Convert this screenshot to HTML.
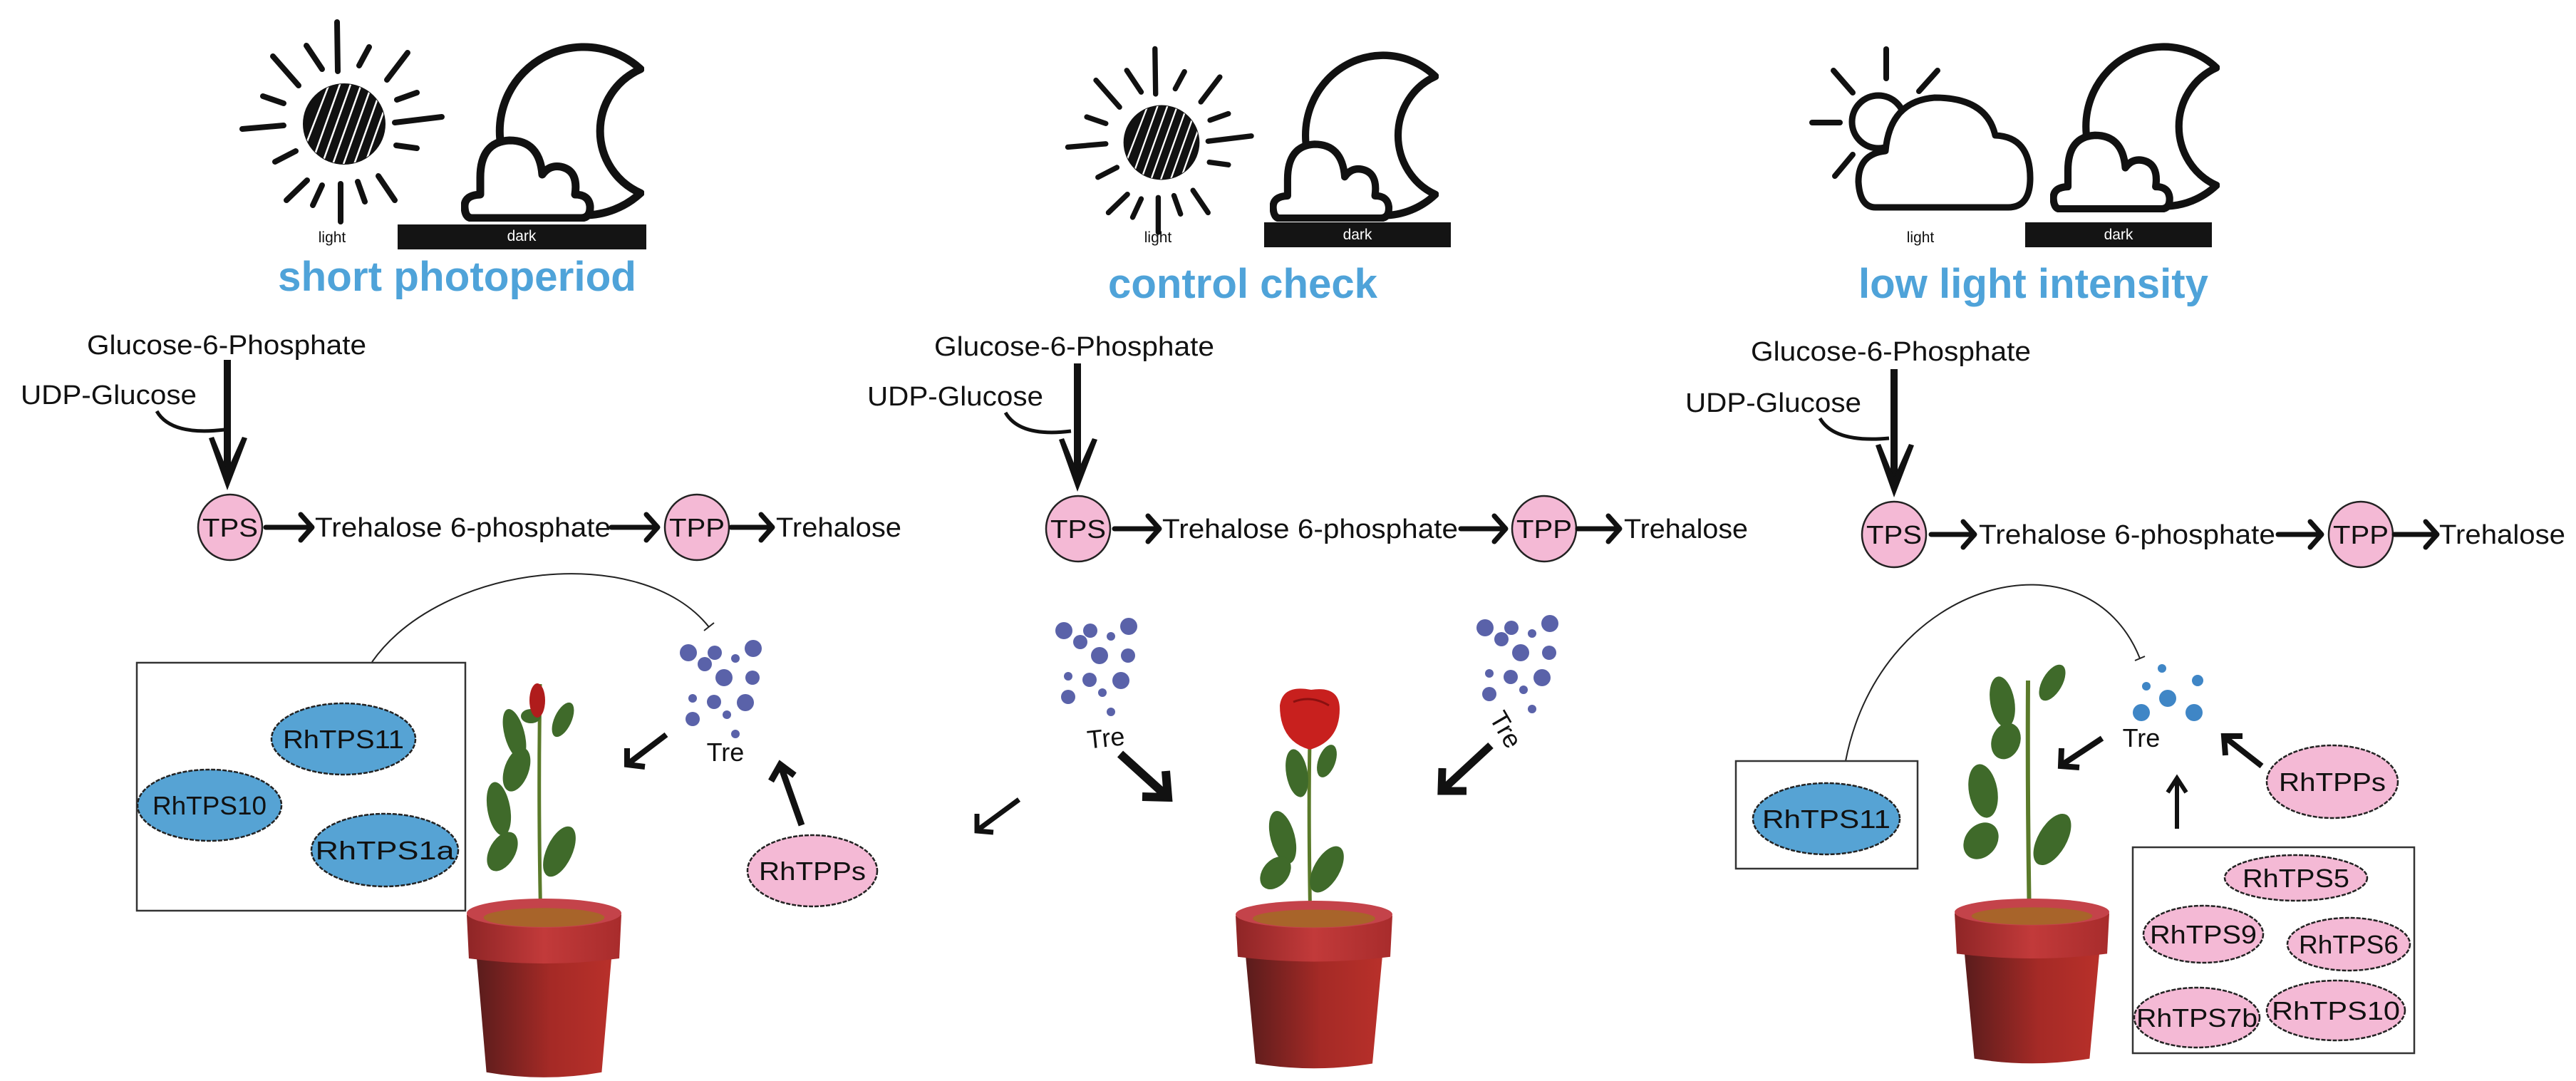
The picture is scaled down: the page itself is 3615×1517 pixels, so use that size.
<!DOCTYPE html>
<html><head><meta charset="utf-8"><style>
html,body{margin:0;padding:0;background:#fff;}
svg{display:block;}
text{font-family:"Liberation Sans",Arial,sans-serif;}
</style></head><body>
<svg width="3615" height="1517" viewBox="0 0 3615 1517" xmlns="http://www.w3.org/2000/svg">
<defs>
<symbol id="moon" viewBox="0 0 257 252" preserveAspectRatio="none">
 <path d="M252,38 A118,118 0 1 0 252,212 A95,95 0 0 1 252,38 Z" fill="#fff" stroke="#111" stroke-width="11" stroke-linejoin="round"/>
 <path d="M15,247 L168,247 Q182,247 181,230 Q179,214 160,214 Q165,180 140,175 Q124,172 114,186 Q110,138 68,138 Q27,140 27,190 L27,214 Q4,215 5,232 Q6,247 15,247 Z" fill="#fff" stroke="#111" stroke-width="11" stroke-linejoin="round"/>
</symbol>
<clipPath id="sunclip"><ellipse cx="483" cy="174" rx="57" ry="56"/></clipPath>
<g id="sun">
 <ellipse cx="483" cy="174" rx="58" ry="57" fill="#111"/>
 <g clip-path="url(#sunclip)" stroke="#fff" stroke-width="2.5">
  <line x1="430" y1="250" x2="480" y2="110"/><line x1="445" y1="250" x2="495" y2="110"/>
  <line x1="460" y1="250" x2="510" y2="110"/><line x1="475" y1="250" x2="525" y2="110"/>
  <line x1="490" y1="250" x2="540" y2="110"/><line x1="505" y1="250" x2="555" y2="110"/>
  <line x1="415" y1="240" x2="465" y2="110"/><line x1="520" y1="250" x2="570" y2="120"/>
 </g>
 <g stroke="#111" stroke-width="8" stroke-linecap="round">
  <line x1="473" y1="31" x2="474" y2="100"/>
  <line x1="430" y1="64" x2="452" y2="97"/><line x1="383" y1="79" x2="419" y2="120"/>
  <line x1="518" y1="66" x2="504" y2="92"/><line x1="572" y1="74" x2="543" y2="112"/>
  <line x1="369" y1="135" x2="398" y2="145"/><line x1="340" y1="181" x2="398" y2="176"/>
  <line x1="585" y1="130" x2="557" y2="140"/><line x1="620" y1="164" x2="554" y2="172"/>
  <line x1="585" y1="208" x2="556" y2="204"/>
  <line x1="415" y1="212" x2="386" y2="227"/><line x1="431" y1="253" x2="402" y2="281"/>
  <line x1="452" y1="260" x2="439" y2="288"/><line x1="478" y1="258" x2="478" y2="311"/>
  <line x1="502" y1="255" x2="512" y2="283"/><line x1="531" y1="247" x2="554" y2="281"/>
 </g>
</g>
<g id="dots" fill="#5a62a9">
 <circle cx="966" cy="916" r="12"/><circle cx="1003" cy="916" r="10"/><circle cx="989" cy="932" r="10"/>
 <circle cx="1032" cy="924" r="6"/><circle cx="1057" cy="910" r="12"/><circle cx="1016" cy="951" r="12"/>
 <circle cx="1056" cy="951" r="10"/><circle cx="972" cy="980" r="6"/><circle cx="1002" cy="985" r="10"/>
 <circle cx="1046" cy="986" r="12"/><circle cx="972" cy="1009" r="10"/><circle cx="1020" cy="1003" r="6"/>
 <circle cx="1032" cy="1030" r="6"/>
</g>
<linearGradient id="potg" x1="0" x2="1" y1="0" y2="0">
 <stop offset="0" stop-color="#5a1c1c"/><stop offset="0.55" stop-color="#a52a26"/><stop offset="1" stop-color="#b8302a"/>
</linearGradient>
<linearGradient id="rimg" x1="0" x2="1">
 <stop offset="0" stop-color="#8e2526"/><stop offset="0.5" stop-color="#c23a3a"/><stop offset="1" stop-color="#a82c2c"/>
</linearGradient>
<symbol id="pot" viewBox="0 0 220 250" preserveAspectRatio="none">
 <path d="M14,80 L206,80 L192,238 Q110,252 28,238 Z" fill="url(#potg)"/>
 <path d="M0,22 L220,22 L217,82 Q110,96 3,82 Z" fill="url(#rimg)"/>
 <ellipse cx="110" cy="20" rx="110" ry="20" fill="#c4434a"/>
 <ellipse cx="110" cy="26" rx="86" ry="13" fill="#a8642a"/>
</symbol>
</defs>
<rect width="3615" height="1517" fill="#fff"/>

<use href="#sun"/>
<use href="#sun" transform="translate(1630,200) scale(0.92) translate(-483,-174)"/>
<use href="#moon" x="647" y="59" width="257" height="252"/>
<use href="#moon" x="1782" y="71" width="237" height="240"/>
<use href="#moon" x="2877" y="59" width="238" height="239"/>
<circle cx="2636" cy="171" r="37" fill="#fff" stroke="#111" stroke-width="9"/>
<g stroke="#111" stroke-width="8" stroke-linecap="round">
 <line x1="2647" y1="69" x2="2647" y2="110"/><line x1="2543" y1="172" x2="2582" y2="172"/>
 <line x1="2573" y1="99" x2="2600" y2="130"/><line x1="2693" y1="128" x2="2719" y2="99"/>
 <line x1="2575" y1="247" x2="2600" y2="217"/>
</g>
<path d="M2632,291 L2818,291 Q2849,291 2849,250 Q2849,192 2800,190 Q2788,137 2715,137 Q2652,142 2646,212 Q2608,216 2608,255 Q2610,291 2632,291 Z" fill="#fff" stroke="#111" stroke-width="9" stroke-linejoin="round"/>

<rect x="558" y="315" width="349" height="35" fill="#141414"/>
<rect x="1774" y="312" width="262" height="35" fill="#141414"/>
<rect x="2842" y="312" width="262" height="35" fill="#141414"/>
<g font-size="21" text-anchor="middle">
 <text x="466" y="340" fill="#111">light</text><text x="732" y="338" fill="#fff">dark</text>
 <text x="1625" y="340" fill="#111">light</text><text x="1905" y="336" fill="#fff">dark</text>
 <text x="2695" y="340" fill="#111">light</text><text x="2973" y="336" fill="#fff">dark</text>
</g>

<g font-size="58" font-weight="bold" fill="#4fa3d9">
 <text x="390" y="408" textLength="503" lengthAdjust="spacingAndGlyphs">short photoperiod</text>
 <text x="1555" y="418" textLength="378" lengthAdjust="spacingAndGlyphs">control check</text>
 <text x="2608" y="418" textLength="491" lengthAdjust="spacingAndGlyphs">low light intensity</text>
</g>

<g font-size="38" fill="#111">
 <text x="122" y="497" textLength="392" lengthAdjust="spacingAndGlyphs">Glucose-6-Phosphate</text>
 <text x="29" y="567" textLength="247" lengthAdjust="spacingAndGlyphs">UDP-Glucose</text>
 <text x="442" y="753" textLength="415" lengthAdjust="spacingAndGlyphs">Trehalose 6-phosphate</text>
 <text x="1089" y="753" textLength="176" lengthAdjust="spacingAndGlyphs">Trehalose</text>
 <text x="1311" y="499" textLength="393" lengthAdjust="spacingAndGlyphs">Glucose-6-Phosphate</text>
 <text x="1217" y="569" textLength="247" lengthAdjust="spacingAndGlyphs">UDP-Glucose</text>
 <text x="1631" y="755" textLength="415" lengthAdjust="spacingAndGlyphs">Trehalose 6-phosphate</text>
 <text x="2279" y="755" textLength="174" lengthAdjust="spacingAndGlyphs">Trehalose</text>
 <text x="2457" y="506" textLength="393" lengthAdjust="spacingAndGlyphs">Glucose-6-Phosphate</text>
 <text x="2365" y="578" textLength="247" lengthAdjust="spacingAndGlyphs">UDP-Glucose</text>
 <text x="2777" y="763" textLength="416" lengthAdjust="spacingAndGlyphs">Trehalose 6-phosphate</text>
 <text x="3423" y="763" textLength="177" lengthAdjust="spacingAndGlyphs">Trehalose</text>
</g>
<g fill="#f4b9d5" stroke="#222" stroke-width="2.5">
 <ellipse cx="323" cy="740" rx="45" ry="46"/><ellipse cx="978" cy="740" rx="45" ry="46"/>
 <ellipse cx="1513" cy="742" rx="45" ry="46"/><ellipse cx="2167" cy="742" rx="45" ry="46"/>
 <ellipse cx="2658" cy="750" rx="45" ry="46"/><ellipse cx="3313" cy="750" rx="45" ry="46"/>
</g>
<g font-size="36" fill="#111" text-anchor="middle">
 <text x="323" y="753" textLength="78" lengthAdjust="spacingAndGlyphs">TPS</text>
 <text x="978" y="753" textLength="78" lengthAdjust="spacingAndGlyphs">TPP</text>
 <text x="1513" y="755" textLength="78" lengthAdjust="spacingAndGlyphs">TPS</text>
 <text x="2167" y="755" textLength="78" lengthAdjust="spacingAndGlyphs">TPP</text>
 <text x="2658" y="763" textLength="78" lengthAdjust="spacingAndGlyphs">TPS</text>
 <text x="3313" y="763" textLength="78" lengthAdjust="spacingAndGlyphs">TPP</text>
</g>
<g stroke="#111" stroke-width="7" fill="none" stroke-linecap="round" stroke-linejoin="round">
 <path d="M373,740 H436 M422,722 L438,740 L422,758"/>
 <path d="M858,740 H921 M907,722 L923,740 L907,758"/>
 <path d="M1026,740 H1082 M1068,722 L1084,740 L1068,758"/>
 <path d="M1564,742 H1625 M1611,724 L1627,742 L1611,760"/>
 <path d="M2050,742 H2111 M2097,724 L2113,742 L2097,760"/>
 <path d="M2214,742 H2271 M2257,724 L2273,742 L2257,760"/>
 <path d="M2710,750 H2769 M2755,732 L2771,750 L2755,768"/>
 <path d="M3197,750 H3256 M3242,732 L3258,750 L3242,768"/>
 <path d="M3360,750 H3418 M3404,732 L3420,750 L3404,768"/>
</g>
<g stroke="#111" fill="none">
 <line x1="319" y1="505" x2="319" y2="660" stroke-width="10"/>
 <line x1="1512" y1="510" x2="1512" y2="662" stroke-width="10"/>
 <line x1="2658" y1="518" x2="2658" y2="670" stroke-width="10"/>
 <path d="M220,577 Q240,612 315,603" stroke-width="5"/>
 <path d="M1411,579 Q1431,614 1503,605" stroke-width="5"/>
 <path d="M2554,587 Q2574,622 2651,615" stroke-width="5"/>
</g>
<g fill="#111">
 <path d="M293,615 L319,688 L347,615 L340,613 L319,660 L300,613 Z"/>
 <path d="M1486,617 L1512,690 L1540,617 L1533,615 L1512,662 L1493,615 Z"/>
 <path d="M2632,625 L2658,698 L2686,625 L2679,623 L2658,670 L2639,623 Z"/>
</g>

<g stroke="#222" stroke-width="2" fill="none">
 <path d="M522,929 C620,790 900,760 995,880"/><line x1="988" y1="885" x2="1002" y2="874"/>
 <path d="M2590,1068 C2640,810 2930,740 3003,924"/><line x1="2996" y1="927" x2="3010" y2="921"/>
</g>

<g fill="#fff" stroke="#333" stroke-width="2.5">
 <rect x="192" y="930" width="461" height="348"/>
 <rect x="2436" y="1068" width="255" height="151"/>
 <rect x="2993" y="1189" width="395" height="289"/>
</g>
<g fill="#56a3d4" stroke="#222" stroke-width="2.5" stroke-dasharray="6 2">
 <ellipse cx="482" cy="1037" rx="101" ry="50"/>
 <ellipse cx="294" cy="1130" rx="101" ry="50"/>
 <ellipse cx="540" cy="1193" rx="103" ry="51"/>
 <ellipse cx="2563" cy="1149" rx="103" ry="50"/>
</g>
<g fill="#f4b9d5" stroke="#222" stroke-width="2.5" stroke-dasharray="6 2">
 <ellipse cx="1140" cy="1222" rx="91" ry="50"/>
 <ellipse cx="3273" cy="1097" rx="92" ry="51"/>
 <ellipse cx="3222" cy="1232" rx="100" ry="32"/>
 <ellipse cx="3092" cy="1311" rx="84" ry="40"/>
 <ellipse cx="3296" cy="1325" rx="86" ry="37"/>
 <ellipse cx="3083" cy="1428" rx="88" ry="42"/>
 <ellipse cx="3278" cy="1418" rx="97" ry="42"/>
</g>
<g font-size="36" fill="#111" text-anchor="middle">
 <text x="482" y="1050" textLength="170" lengthAdjust="spacingAndGlyphs">RhTPS11</text>
 <text x="294" y="1143" textLength="160" lengthAdjust="spacingAndGlyphs">RhTPS10</text>
 <text x="540" y="1206" textLength="195" lengthAdjust="spacingAndGlyphs">RhTPS1a</text>
 <text x="2563" y="1162" textLength="180" lengthAdjust="spacingAndGlyphs">RhTPS11</text>
 <text x="1140" y="1235" textLength="150" lengthAdjust="spacingAndGlyphs">RhTPPs</text>
 <text x="3273" y="1110" textLength="150" lengthAdjust="spacingAndGlyphs">RhTPPs</text>
 <text x="3222" y="1245" textLength="150" lengthAdjust="spacingAndGlyphs">RhTPS5</text>
 <text x="3092" y="1324" textLength="150" lengthAdjust="spacingAndGlyphs">RhTPS9</text>
 <text x="3296" y="1338" textLength="140" lengthAdjust="spacingAndGlyphs">RhTPS6</text>
 <text x="3083" y="1441" textLength="170" lengthAdjust="spacingAndGlyphs">RhTPS7b</text>
 <text x="3278" y="1431" textLength="180" lengthAdjust="spacingAndGlyphs">RhTPS10</text>
</g>

<use href="#dots"/>
<use href="#dots" transform="translate(527,-31)"/>
<use href="#dots" transform="translate(1118,-35)"/>
<g fill="#3f86c6">
 <circle cx="3034" cy="938" r="6"/><circle cx="3084" cy="955" r="8"/><circle cx="3012" cy="963" r="6"/>
 <circle cx="3042" cy="980" r="12"/><circle cx="3005" cy="1000" r="12"/><circle cx="3079" cy="1000" r="12"/>
</g>
<g font-size="36" fill="#111" text-anchor="middle">
 <text x="1018" y="1068">Tre</text>
 <text x="1552" y="1048" transform="rotate(-6 1552 1036)">Tre</text>
 <text x="2113" y="1036" transform="rotate(60 2113 1024)">Tre</text>
 <text x="3005" y="1048">Tre</text>
</g>
<g stroke="#111" fill="none" stroke-linecap="butt" stroke-linejoin="miter">
 <path d="M935,1031 L881,1072 M880,1050 L880,1073 L905,1076" stroke-width="8"/>
 <path d="M1125,1158 L1096,1076 M1082,1096 L1095,1073 L1115,1088" stroke-width="9"/>
 <path d="M1572,1058 L1636,1116 M1603,1118 L1639,1119 L1636,1082" stroke-width="12"/>
 <path d="M1430,1122 L1373,1164 M1371,1142 L1371,1166 L1394,1168" stroke-width="7"/>
 <path d="M2092,1046 L2026,1107 M2024,1078 L2023,1110 L2058,1110" stroke-width="11"/>
 <path d="M2950,1036 L2894,1073 M2893,1050 L2892,1075 L2918,1077" stroke-width="8"/>
 <path d="M3174,1075 L3124,1036 M3123,1060 L3121,1033 L3147,1033" stroke-width="8"/>
 <path d="M3055,1163 L3055,1095 M3042,1112 L3055,1092 L3068,1112" stroke-width="6"/>
</g>

<path d="M759,1300 Q755,1120 758,960" stroke="#5a7a2a" stroke-width="5" fill="none"/>
<g fill="#3f6a2a">
 <ellipse cx="722" cy="1030" rx="14" ry="36" transform="rotate(-15 722 1030)"/>
 <ellipse cx="725" cy="1080" rx="17" ry="32" transform="rotate(20 725 1080)"/>
 <ellipse cx="700" cy="1135" rx="16" ry="38" transform="rotate(-10 700 1135)"/>
 <ellipse cx="705" cy="1195" rx="18" ry="30" transform="rotate(30 705 1195)"/>
 <ellipse cx="785" cy="1195" rx="18" ry="38" transform="rotate(25 785 1195)"/>
 <ellipse cx="790" cy="1010" rx="12" ry="26" transform="rotate(25 790 1010)"/>
 <ellipse cx="745" cy="1005" rx="14" ry="10"/>
</g>
<ellipse cx="754" cy="983" rx="11" ry="24" fill="#b01c1c"/>
<use href="#pot" x="655" y="1261" width="217" height="256"/>
<path d="M1839,1300 Q1836,1150 1838,1040" stroke="#5a7a2a" stroke-width="5" fill="none"/>
<g fill="#3f6a2a">
 <ellipse cx="1820" cy="1085" rx="15" ry="34" transform="rotate(-10 1820 1085)"/>
 <ellipse cx="1862" cy="1068" rx="12" ry="24" transform="rotate(20 1862 1068)"/>
 <ellipse cx="1800" cy="1175" rx="17" ry="38" transform="rotate(-15 1800 1175)"/>
 <ellipse cx="1790" cy="1225" rx="18" ry="26" transform="rotate(40 1790 1225)"/>
 <ellipse cx="1862" cy="1220" rx="18" ry="36" transform="rotate(30 1862 1220)"/>
</g>
<path d="M1796,990 Q1800,960 1840,968 Q1880,962 1880,995 Q1880,1040 1838,1052 Q1796,1040 1796,990 Z" fill="#c8201e"/>
<path d="M1815,985 Q1840,975 1865,990" stroke="#8a1010" stroke-width="3" fill="none"/>
<use href="#pot" x="1734" y="1264" width="220" height="240"/>
<path d="M2848,1293 Q2845,1120 2846,955" stroke="#5a7a2a" stroke-width="6" fill="none"/>
<g fill="#3f6a2a">
 <ellipse cx="2810" cy="985" rx="17" ry="36" transform="rotate(-10 2810 985)"/>
 <ellipse cx="2815" cy="1040" rx="20" ry="26" transform="rotate(20 2815 1040)"/>
 <ellipse cx="2880" cy="958" rx="14" ry="28" transform="rotate(30 2880 958)"/>
 <ellipse cx="2783" cy="1110" rx="20" ry="38" transform="rotate(-10 2783 1110)"/>
 <ellipse cx="2780" cy="1180" rx="22" ry="28" transform="rotate(40 2780 1180)"/>
 <ellipse cx="2880" cy="1178" rx="20" ry="40" transform="rotate(30 2880 1178)"/>
</g>
<use href="#pot" x="2743" y="1261" width="217" height="236"/>
</svg>
</body></html>
